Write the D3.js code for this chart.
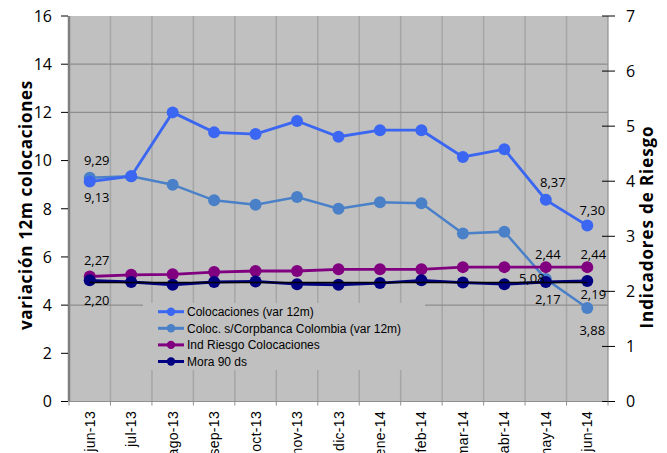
<!DOCTYPE html>
<html>
<head>
<meta charset="utf-8">
<script src="https://cdn.jsdelivr.net/npm/d3@7"></script>
<style>
  body { margin: 0; background: #fff; }
  svg { display: block; }
</style>
</head>
<body>
<div id="chart"></div>
<script>
const months = ["jun-13", "jul-13", "ago-13", "sep-13", "oct-13", "nov-13", "dic-13",
  "ene-14", "feb-14", "mar-14", "abr-14", "may-14", "jun-14"];

// left axis (variación 12m)
const colocaciones = [9.13, 9.35, 12.0, 11.17, 11.1, 11.64, 10.99, 11.26, 11.26, 10.15, 10.47, 8.37, 7.30];
const colocSinCorpbanca = [9.29, 9.35, 9.0, 8.35, 8.17, 8.49, 8.0, 8.27, 8.23, 6.97, 7.05, 5.08, 3.88];
// right axis (indicadores de riesgo)
const indRiesgo = [2.27, 2.30, 2.31, 2.35, 2.37, 2.37, 2.40, 2.40, 2.40, 2.44, 2.44, 2.44, 2.44];
const mora90 = [2.20, 2.17, 2.12, 2.17, 2.18, 2.13, 2.12, 2.15, 2.20, 2.16, 2.13, 2.17, 2.19];

const leftTicks = [0, 2, 4, 6, 8, 10, 12, 14, 16];
const rightTicks = [0, 1, 2, 3, 4, 5, 6, 7];
const hGrid = [14, 12, 4];

const seriesNames = ["Colocaciones (var 12m)", "Coloc. s/Corpbanca Colombia (var 12m)",
  "Ind Riesgo Colocaciones", "Mora 90 ds"];

// which points get a value label: [series index, point index]
const labelled = [[1, 0], [0, 0], [0, 11], [0, 12], [2, 0], [3, 0],
  [2, 11], [2, 12], [1, 11], [3, 11], [3, 12], [1, 12]];

const width = 667, height = 453;
const plot = {left: 69, right: 608, top: 16, bottom: 401.5};

const svg = d3.select("#chart").append("svg")
    .attr("width", width)
    .attr("height", height);

const x = d3.scaleBand()
    .domain(months)
    .range([plot.left, plot.right]);

const yL = d3.scaleLinear().domain([0, 16]).range([plot.bottom, plot.top]);
const yR = d3.scaleLinear().domain([0, 7]).range([plot.bottom, plot.top]);

const cx = d => x(d) + x.bandwidth() / 2;

const series = [
  {name: seriesNames[0], values: colocaciones, y: yL, color: "#3a66f2"},
  {name: seriesNames[1], values: colocSinCorpbanca, y: yL, color: "#4a80c8"},
  {name: seriesNames[2], values: indRiesgo, y: yR, color: "#800080"},
  {name: seriesNames[3], values: mora90, y: yR, color: "#000080"}
];

// plot background
svg.append("rect")
    .attr("x", plot.left).attr("y", plot.top)
    .attr("width", plot.right - plot.left).attr("height", plot.bottom - plot.top)
    .attr("fill", "#c0c0c0");

// vertical grid at category boundaries
svg.append("g")
    .selectAll("line")
    .data(months.slice(1))
    .enter().append("line")
    .attr("x1", d => x(d)).attr("x2", d => x(d))
    .attr("y1", plot.top).attr("y2", plot.bottom)
    .attr("stroke", "#a6a6a6").attr("stroke-width", 1.5);

svg.append("g")
    .selectAll("line")
    .data(hGrid)
    .enter().append("line")
    .attr("x1", plot.left).attr("x2", plot.right)
    .attr("y1", d => yL(d)).attr("y2", d => yL(d))
    .attr("stroke", "#8e8e8e").attr("stroke-width", 1.2);

// legend box (hides grid behind it)
const legend = svg.append("g");
legend.append("rect")
    .attr("x", 143).attr("y", 303).attr("width", 282).attr("height", 67)
    .attr("fill", "#c0c0c0");
const legItem = legend.selectAll("g")
    .data(series)
    .enter().append("g")
    .attr("transform", (d, i) => "translate(0," + (311.7 + i * 16.6) + ")");
legItem.append("line")
    .attr("x1", 158).attr("x2", 184)
    .attr("stroke", d => d.color).attr("stroke-width", 3);
legItem.append("circle")
    .attr("cx", 171).attr("r", 4.2)
    .attr("fill", d => d.color);
legItem.append("text")
    .attr("x", 187).attr("y", 4.3)
    .attr("font-family", "Liberation Sans, Arial, sans-serif")
    .attr("font-size", 12)
    .attr("fill", "#000")
    .text(d => d.name);

// axes lines
svg.append("line")
    .attr("x1", plot.left).attr("x2", plot.left)
    .attr("y1", plot.top).attr("y2", plot.bottom)
    .attr("stroke", "#808080").attr("stroke-width", 2.5);
svg.append("line")
    .attr("x1", plot.right).attr("x2", plot.right)
    .attr("y1", plot.top).attr("y2", plot.bottom)
    .attr("stroke", "#909090").attr("stroke-width", 1.2);
svg.append("line")
    .attr("x1", plot.left).attr("x2", plot.right)
    .attr("y1", plot.bottom).attr("y2", plot.bottom)
    .attr("stroke", "#909090").attr("stroke-width", 1.2);

// left ticks
const tickFont = "Open Sans, Noto Sans, sans-serif";
const lt = svg.append("g").selectAll("g").data(leftTicks).enter().append("g")
    .attr("transform", d => "translate(0," + yL(d) + ")");
lt.append("line").attr("x1", 61).attr("x2", plot.left - 1)
    .attr("stroke", "#000").attr("stroke-width", 1);
lt.append("text")
    .attr("x", 52).attr("dy", "0.36em")
    .attr("text-anchor", "end")
    .attr("font-family", tickFont).attr("font-size", 16)
    .text(d => d);

// right ticks
const rt = svg.append("g").selectAll("g").data(rightTicks).enter().append("g")
    .attr("transform", d => "translate(0," + yR(d) + ")");
rt.append("line").attr("x1", plot.right - 6).attr("x2", plot.right + 7)
    .attr("stroke", "#000").attr("stroke-width", 1);
rt.append("text")
    .attr("x", 626).attr("dy", "0.36em")
    .attr("font-family", tickFont).attr("font-size", 16)
    .text(d => d);

// x ticks & labels
svg.append("g").selectAll("line")
    .data(months)
    .enter().append("line")
    .attr("x1", d => x(d)).attr("x2", d => x(d))
    .attr("y1", plot.bottom).attr("y2", plot.bottom + 4)
    .attr("stroke", "#909090");
svg.append("line")
    .attr("x1", plot.right).attr("x2", plot.right)
    .attr("y1", plot.bottom).attr("y2", plot.bottom + 4)
    .attr("stroke", "#909090");
svg.append("g").selectAll("text")
    .data(months)
    .enter().append("text")
    .attr("transform", d => "translate(" + (cx(d) + 5) + ",411) rotate(-90)")
    .attr("text-anchor", "end")
    .attr("font-family", "Liberation Sans, Arial, sans-serif")
    .attr("font-size", 14)
    .attr("letter-spacing", 0.3)
    .text(d => d);

// axis titles
svg.append("text")
    .attr("transform", "translate(32,205) rotate(-90)")
    .attr("text-anchor", "middle")
    .attr("font-family", tickFont).attr("font-weight", "bold").attr("font-size", 17)
    .attr("letter-spacing", 0.7)
    .text("variación 12m colocaciones");
svg.append("text")
    .attr("transform", "translate(653,227) rotate(-90)")
    .attr("text-anchor", "middle")
    .attr("font-family", tickFont).attr("font-weight", "bold").attr("font-size", 17)
    .attr("letter-spacing", 0.9)
    .text("Indicadores de Riesgo");

// series
const line = s => d3.line()
    .x((v, i) => cx(months[i]))
    .y(v => s.y(v));

// draw order: steel blue, bright blue, purple, navy
[1, 0, 2, 3].forEach(k => {
  const s = series[k];
  const g = svg.append("g");
  g.append("path")
      .attr("d", line(s)(s.values))
      .attr("fill", "none")
      .attr("stroke", s.color)
      .attr("stroke-width", k === 1 ? 2.5 : 2.8);
  g.selectAll("circle")
      .data(s.values)
      .enter().append("circle")
      .attr("cx", (v, i) => cx(months[i]))
      .attr("cy", v => s.y(v))
      .attr("r", 6)
      .attr("fill", s.color);
});

// linear trend of Mora 90 ds
const idx = mora90.map((v, i) => i);
const mx = d3.mean(idx), my = d3.mean(mora90);
const slope = d3.sum(idx, i => (i - mx) * (mora90[i] - my)) / d3.sum(idx, i => (i - mx) * (i - mx));
const trend = i => my + slope * (i - mx);
svg.append("line")
    .attr("x1", cx(months[0])).attr("y1", yR(trend(0)))
    .attr("x2", cx(months[months.length - 1])).attr("y2", yR(trend(months.length - 1)))
    .attr("stroke", "#000").attr("stroke-width", 1.6);

// data labels
const fmt = d3.formatLocale({decimal: ",", thousands: ".", grouping: [3], currency: ["", ""]}).format(".2f");
const labelOffset = {
  "1-0": [7, -12.5], "0-0": [7, 20], "0-11": [7, -13], "0-12": [5, -10.5],
  "2-0": [7, -11], "3-0": [7, 25], "2-11": [2, -8], "2-12": [6, -8],
  "1-11": [-14, 4], "3-11": [2, 22], "3-12": [6, 18.5], "1-12": [5, 27]
};
svg.append("g").selectAll("text")
    .data(labelled)
    .enter().append("text")
    .attr("x", d => cx(months[d[1]]) + labelOffset[d.join("-")][0])
    .attr("y", d => series[d[0]].y(series[d[0]].values[d[1]]) + labelOffset[d.join("-")][1])
    .attr("text-anchor", "middle")
    .attr("font-family", tickFont).attr("font-size", 13)
    .text(d => fmt(series[d[0]].values[d[1]]));
</script>
</body>
</html>
